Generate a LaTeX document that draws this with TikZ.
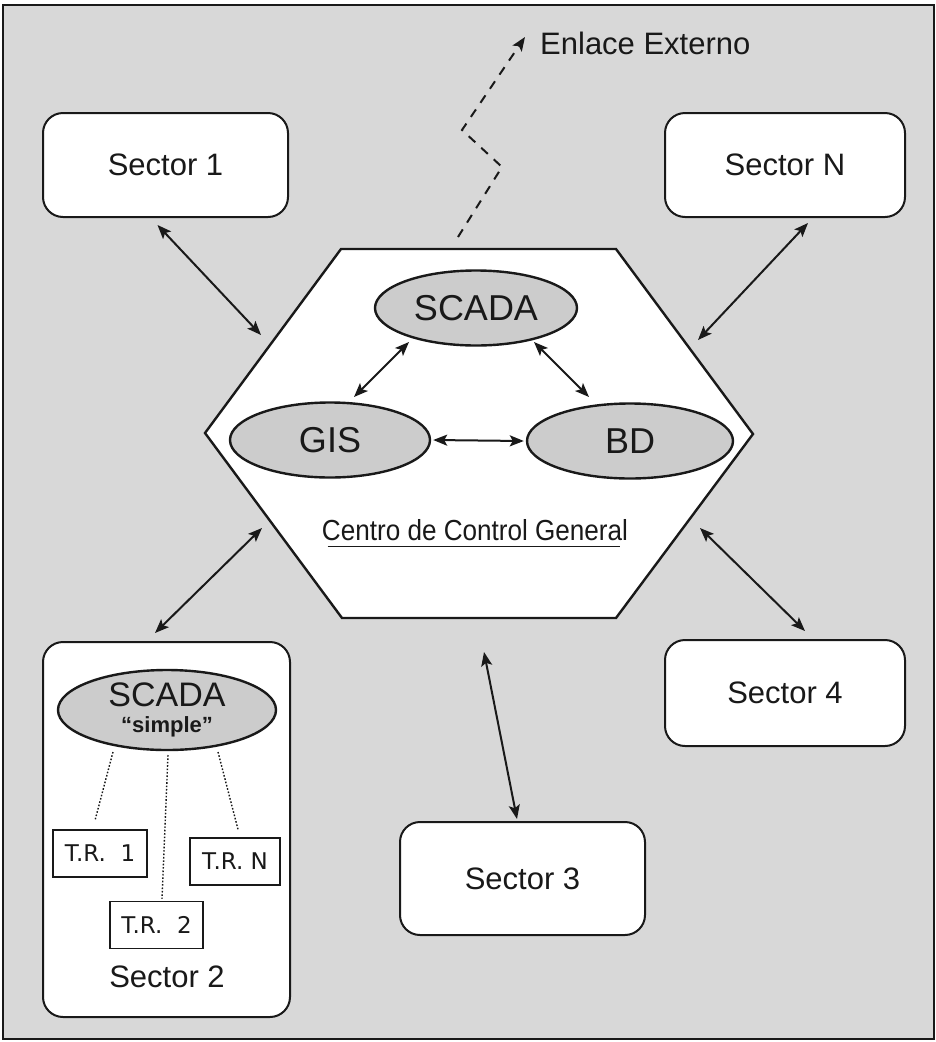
\documentclass[tikz,border=0pt]{standalone}
\usepackage{fontspec}
\setmainfont{Liberation Sans}
\newfontfamily\trfont{DejaVu Sans}
\newfontfamily\narrowfont{Liberation Sans}[FakeStretch=0.9]
\usetikzlibrary{shapes.geometric,arrows.meta,calc}
\definecolor{bg}{RGB}{216,216,216}
\definecolor{efill}{RGB}{204,204,204}
\definecolor{ink}{RGB}{25,25,25}
\begin{document}
\begin{tikzpicture}[x=1pt,y=-1pt,color=ink,
  sectorbox/.style={draw,line width=2pt,rounded corners=20pt,fill=white,
    minimum width=245pt,minimum height=104pt,inner sep=0pt,
    font=\fontsize{31}{33}\selectfont},
  oval/.style={draw,line width=2.4pt,ellipse,fill=efill,minimum width=202pt,
    minimum height=75pt,inner sep=0pt,font=\fontsize{36}{38}\selectfont},
  trbox/.style={draw,line width=1.3pt,fill=white,minimum width=94pt,
    minimum height=47pt,inner sep=0pt,font=\trfont\fontsize{23}{25}\selectfont},
  tip/.tip={Stealth[length=14pt,width=11pt,inset=3pt]},
  biarrow/.style={tip-tip,line width=2pt},
  dotline/.style={line width=1.4pt,dash pattern=on 1.6pt off 1.8pt},
  extline/.style={line width=2pt,dash pattern=on 9pt off 8pt,-tip}
]
\useasboundingbox (0,0) rectangle (936,1042);
% background frame
\fill[bg] (3,5) rectangle (934,1039);
\draw[line width=2pt] (3,5) rectangle (934,1039);

% hexagon
\coordinate (hL) at (205,433);
\coordinate (hTL) at (341,249);
\coordinate (hTR) at (616,249);
\coordinate (hR) at (753,434);
\coordinate (hBR) at (616,618);
\coordinate (hBL) at (342,618);
\draw[line width=2.4pt,fill=white,line join=miter] (hL) -- (hTL) -- (hTR) -- (hR) -- (hBR) -- (hBL) -- cycle;

% ellipses in the centre
\node[oval] (scada) at (476,308) {SCADA};
\node[oval,minimum width=200pt] (gis) at (330,440) {GIS};
\node[oval,minimum width=206pt] (bd) at (630,441) {BD};
\node[font=\narrowfont\fontsize{29}{31}\selectfont,inner sep=0pt] (ccg) at (475,530) {Centro de Control General};
\draw[line width=1.4pt] ($(ccg.base west)+(6,6)$) -- ($(ccg.base east)+(-8,6)$);

\draw[biarrow] ($(scada)+(-67,34)$) -- ($(gis)+(24,-43)$);
\draw[biarrow] ($(scada)+(58,34)$) -- ($(bd)+(-41,-44)$);
\draw[biarrow] ($(gis.east)+(2,0)$) -- ($(bd.west)+(-2,0)$);

% sectors
\node[sectorbox] (s1) at (165.5,165) {Sector 1};
\node[sectorbox,minimum width=240pt] (sN) at (785,165) {Sector N};
\node[sectorbox,minimum width=240pt,minimum height=106pt] (s4) at (785,693) {Sector 4};
\node[sectorbox,minimum height=113pt] (s3) at (522.5,878.5) {Sector 3};
\node[sectorbox,minimum width=247pt,minimum height=375pt] (s2) at (166.5,829.5) {};

% sector 2 contents
\node[oval,minimum width=218pt,minimum height=80pt] (ss) at (167,710) {};
\node[font=\fontsize{34}{36}\selectfont,inner sep=0pt] (sstxt) at (167,695) {SCADA};
\node[font=\bfseries\fontsize{22}{24}\selectfont,inner sep=0pt,anchor=base] (sssimple) at (167,732) {“simple”};
\node[trbox] (tr1) at (100,853.5) {T.R.\ \ 1};
\node[trbox,minimum width=93pt] (tr2) at (156.5,925) {T.R.\ \ 2};
\node[trbox,minimum width=90pt] (trN) at (235,861.5) {T.R.\ N};
\node[font=\fontsize{31}{33}\selectfont,inner sep=0pt] (s2txt) at (167,977) {Sector 2};

\draw[dotline] ($(ss)+(-54,42)$) -- ($(tr1.north)+(-5,-9)$);
\draw[dotline] ($(ss)+(1,45)$) -- ($(tr2.north)+(5.5,-2)$);
\draw[dotline] ($(ss)+(51,42)$) -- ($(trN.north)+(3,-8)$);

% connectors sector <-> centre
\coordinate (cUL) at (261,335);
\coordinate (cUR) at (698,340);
\coordinate (cLL) at (262,528);
\coordinate (cLR) at (700,528);
\coordinate (cB) at (484,652);
\draw[biarrow] ($(s1.south)+(-8,7)$) -- (cUL);
\draw[biarrow] ($(sN.south)+(23,5)$) -- (cUR);
\draw[biarrow] (cLL) -- ($(s2.north)+(-11.5,-8)$);
\draw[biarrow] (cLR) -- ($(s4.north)+(20,-8)$);
\draw[biarrow] (cB) -- ($(s3.north)+(-5.5,-2)$);

% external link
\node[font=\fontsize{31}{33}\selectfont,inner sep=0pt,anchor=west] (ext) at (540,43) {Enlace Externo};
\coordinate (hTop) at (458,237);
\draw[extline] (hTop) -- (502,167) -- (462,130) -- ($(ext.west)+(-15,-6)$);
\end{tikzpicture}
\end{document}
